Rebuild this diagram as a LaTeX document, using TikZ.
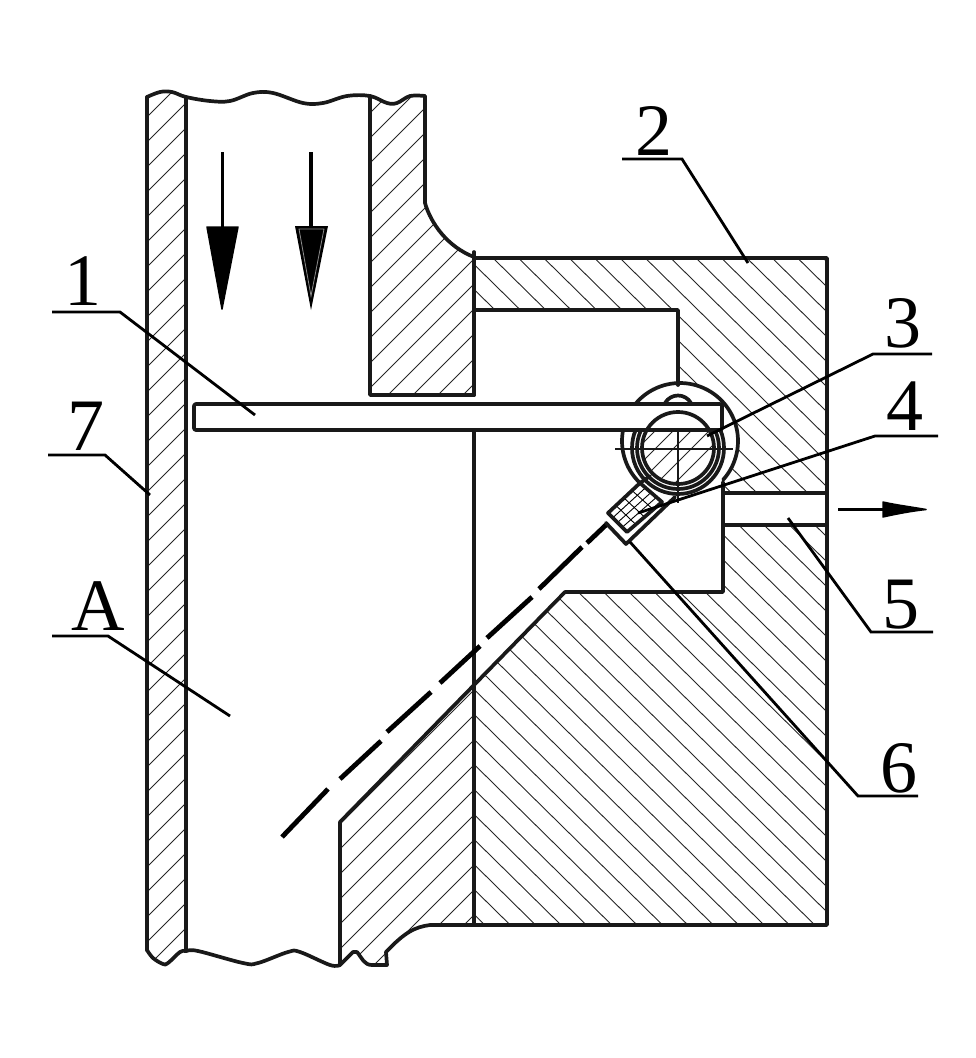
\documentclass[tikz,border=0pt]{standalone}
\usepackage{fontspec}
\setmainfont{Liberation Serif}
\usetikzlibrary{calc}
\tikzset{
  x=1pt,y=-1pt,
  outline/.style={line width=3.7pt,line join=round,line cap=round,black!90},
  leader/.style={line width=2.8pt,line join=miter,black},
  hatchline/.style={line width=0.9pt,black!85},
  flapline/.style={line width=4.8pt,black},
  callout/.style={inner sep=0pt,anchor=base,font=\fontsize{74}{80}\selectfont},
  headfill/.style={fill=black,draw=black,line width=1.5pt,line join=round},
}
% hatching, clipped to a path
\newcommand{\backhatch}[1]{\begin{scope}\clip #1;
  \foreach \k in {-30,...,25}{\draw[hatchline] (460,{737+25*\k+0.985*(460-827)}) -- (840,{737+25*\k+0.985*(840-827)});}
  \end{scope}}
\newcommand{\fwdhatch}[3]{\begin{scope}\clip #1;
  \foreach \k in {0,...,#3}{\draw[hatchline] (130,{#2+25*\k-130}) -- (490,{#2+25*\k-490});}
  \end{scope}}
\def\wallpath{plot[smooth,tension=.6] coordinates{(147,97)(160,92)(172,92)(186,97)} -- (186,951) -- plot[smooth,tension=.6] coordinates{(186,951)(180,952)(168,963)(163,964)(153,958)(147,950)} -- cycle}
\def\blockpath{(370,96) -- plot[smooth,tension=.6] coordinates{(370,96)(387,103)(397,103)(410,96)(425,96)} -- (425,203) .. controls (431,224) and (448,247) .. (474,257) -- (474,395) -- (370,395) -- cycle}
\def\lowerpath{(340,822) -- (474,688) -- (474,925) -- (430,925) .. controls (415,927) and (405,932) .. (386,952) -- (387,965) -- (368,965) -- (357,952) -- (353,952) -- (340,965) -- cycle}
\begin{document}
\begin{tikzpicture}
\useasboundingbox (0,0) rectangle (975,1058);
% --- hatching
\fwdhatch{\wallpath}{39}{50}
\fwdhatch{\blockpath}{208}{40}
\fwdhatch{\lowerpath}{1014}{30}
\backhatch{(474,258) -- (827,258) -- (827,493) -- (722,493) -- (722,440) -- (678,440) -- (678,310) -- (474,310) -- cycle}
\backhatch{(722,525) -- (827,525) -- (827,925) -- (474,925) -- (474,688) -- (565,592) -- (722,592) -- cycle}
\fill[white] (680,441) circle (57pt);
% shaft hatching
\begin{scope}
  \clip (474,430) rectangle (800,520);
  \clip (678,448) circle (36pt);
  \foreach \k in {-4,...,4}{\draw[hatchline] (600,{1122+18*\k-600}) -- (760,{1122+18*\k-760});}
\end{scope}
% --- outlines
\draw[outline] plot[smooth,tension=.6] coordinates{(147,97)(160,92)(172,92)(186,97)(210,101)(230,101)(253,93)(273,93)(303,103)(323,103)(347,96)(370,96)(387,103)(397,103)(410,96)(425,96)};
\draw[outline] (147,97) -- (147,950);
\draw[outline] (186,97) -- (186,951);
\draw[outline] plot[smooth,tension=.6] coordinates{(147,950)(153,958)(163,964)(168,963)(180,952)(186,951)(198,951)(243,963)(258,963)(288,952)(300,952)(330,965)(340,965)};
\draw[outline] (340,965) -- (353,952) -- (357,952) .. controls (362,958) and (364,965) .. (372,965) -- (387,965) -- (386,952) .. controls (405,932) and (415,927) .. (430,925) -- (827,925) -- (827,258) -- (474,258);
\draw[outline] (370,96) -- (370,395) -- (474,395);
\draw[outline] (425,96) -- (425,203) .. controls (431,224) and (448,247) .. (474,257);
\draw[outline] (474,252) -- (474,395);
\draw[outline] (474,430) -- (474,925);
\draw[outline] (474,310) -- (678,310) -- (678,385);
\draw[outline] (340,965) -- (340,822) -- (565,592) -- (723,592) -- (723,482);
\draw[outline] (723,493) -- (827,493);
\draw[outline] (723,525) -- (827,525);
% --- bar
\draw[outline,rounded corners=2pt] (722,404) -- (194,404) -- (194,430) -- (722,430) -- cycle;
% --- pivot
\draw[outline,smooth] plot[domain=42:-140,samples=50] ({680+58*cos(\x)},{441+58*sin(\x)});
\draw[outline,smooth] plot[domain=191:133,samples=20] ({680+58*cos(\x)},{441+58*sin(\x)});
\draw[outline] (665,403) .. controls (671,393) and (685,393) .. (691,403);
\draw[outline] (678,448) circle (36pt);
\begin{scope}
  \clip (600,430) rectangle (760,520);
  \draw[outline] (678,448) circle (41pt);
  \draw[outline] (678,448) circle (46pt);
\end{scope}
\draw[line width=2.8pt,black!90] (615,449) -- (733,449);
\draw[line width=2.8pt,black!90] (678,430) -- (678,503);
% --- flap
\foreach \a/\b/\c/\d in {282/837/328/789,340/779/381/741,387/732/431/692,440/683/480/646,487/638/532/597,539/589/582/547,587/543/608/523}{
  \draw[flapline] (\a,\b) -- (\c,\d);}
\coordinate (ma) at (608,513); \coordinate (mb) at (640,483);
\coordinate (mc) at (662,502); \coordinate (md) at (627,532);
\foreach \t in {0.25,0.5,0.75}{
  \draw[line width=0.9pt] ($(ma)!\t!(mb)$) -- ($(md)!\t!(mc)$);
  \draw[line width=0.9pt] ($(ma)!\t!(md)$) -- ($(mb)!\t!(mc)$);}
\draw[outline] (ma) -- (mb) -- (mc) -- (md) -- cycle;
\draw[outline] (606,523) -- (626,544) -- (675,497);
\draw[outline] (640,483) -- (650,476);
% --- flow arrows
\draw[line width=3pt] (222,152) -- (222,228);
\draw[headfill] (207,227) -- (238,227) -- (222,309) -- cycle;
\draw[line width=3.6pt] (311,152) -- (311,228);
\fill[black] (295,226) -- (328,226) -- (311,310) -- cycle;
\draw[black!45,line width=0.8pt] (299,229) -- (324,229) -- (311,296) -- cycle;
\draw[line width=3pt] (838,509) -- (884,509);
\draw[headfill] (883,502) .. controls (896,505) and (912,507) .. (926,509.5) .. controls (912,511) and (896,514) .. (883,517) -- cycle;
% --- callouts
\node[callout] (n1) at (83,305) {1};
\node[callout] (n2) at (654,155) {2};
\node[callout] (n3) at (903,347) {3};
\node[callout] (n4) at (905,430) {4};
\node[callout] (n5) at (901,628) {5};
\node[callout] (n6) at (899,792) {6};
\node[callout] (n7) at (86,450) {7};
\node[callout] (nA) at (98,630) {A};
\coordinate (a1) at (52,312);  \coordinate (b1) at (120,312);  \coordinate (c1) at (255,415);
\coordinate (a2) at (622,159); \coordinate (b2) at (682,159);  \coordinate (c2) at (748,263);
\coordinate (a3) at (932,354); \coordinate (b3) at (873,354);  \coordinate (c3) at (707,436);
\coordinate (a4) at (938,436); \coordinate (b4) at (875,436);  \coordinate (c4) at (638,513);
\coordinate (a5) at (933,632); \coordinate (b5) at (871,632);  \coordinate (c5) at (788,518);
\coordinate (a6) at (918,796); \coordinate (b6) at (858,796);  \coordinate (c6) at (630,542);
\coordinate (a7) at (48,455);  \coordinate (b7) at (105,455);  \coordinate (c7) at (150,495);
\coordinate (aA) at (52,636);  \coordinate (bA) at (108,636);  \coordinate (cA) at (230,716);
\foreach \s in {1,2,3,4,5,6,7,A}{\draw[leader] (a\s) -- (b\s) -- (c\s);}
\end{tikzpicture}
\end{document}
